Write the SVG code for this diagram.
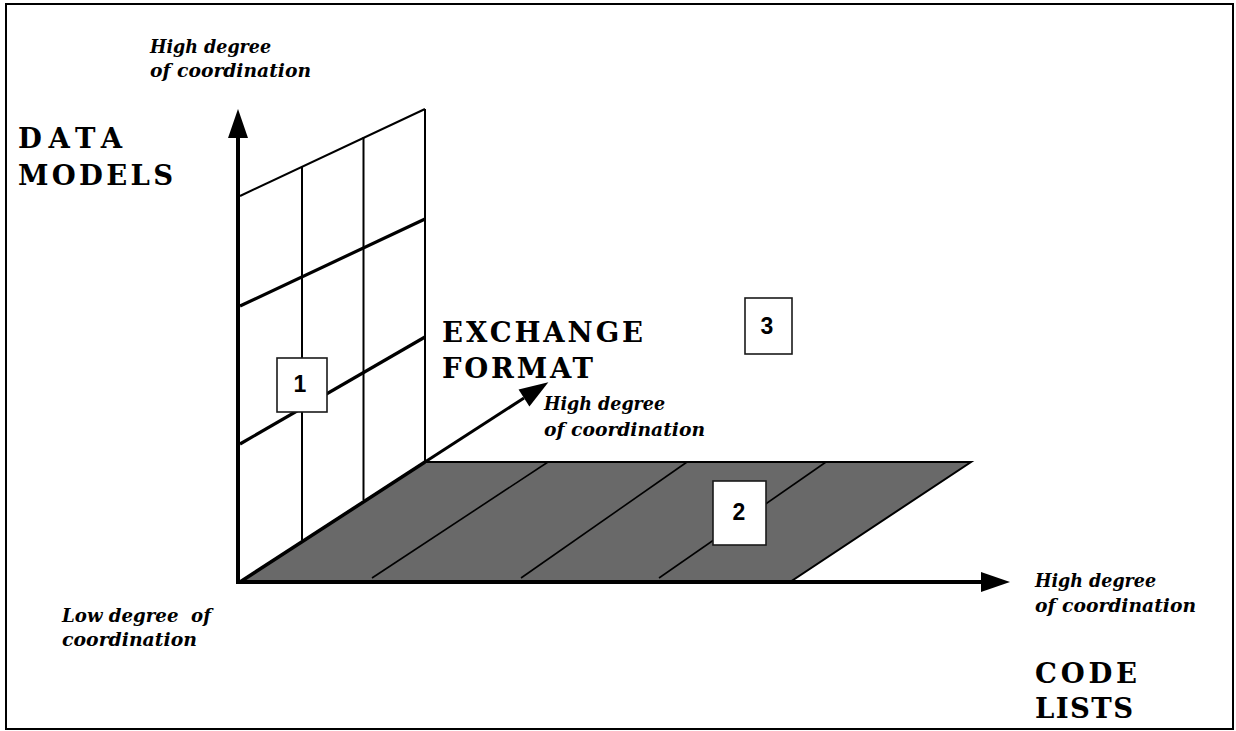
<svg xmlns="http://www.w3.org/2000/svg" width="1236" height="731" viewBox="0 0 1236 731">
  <style>
    .frame { fill: #ffffff; stroke: #000000; stroke-width: 2; }
    .axis { stroke: #000000; stroke-width: 4; fill: none; }
    .grid { stroke: #000000; stroke-width: 2; fill: none; }
    .grid-bold { stroke: #000000; stroke-width: 3.2; fill: none; }
    .stripe { stroke: #000000; stroke-width: 1.6; fill: none; }
    .floor { fill: #696969; stroke: #000000; stroke-width: 2; }
    .box { fill: #ffffff; stroke: #1a1a1a; stroke-width: 1.6; }
    .num { font-family: "Liberation Sans", Arial, sans-serif; font-weight: bold; font-size: 23px; fill: #000000; text-anchor: middle; }
    .title { font-family: "DejaVu Serif", "Liberation Serif", serif; font-weight: bold; font-size: 27.5px; fill: #000000; }
    .note { font-family: "DejaVu Serif", serif; font-weight: bold; font-style: italic; font-size: 18.5px; fill: #000000; }
  </style>
  <defs>
    <marker id="head" markerUnits="userSpaceOnUse" markerWidth="30" markerHeight="20" refX="0" refY="10" orient="auto" overflow="visible">
      <path d="M0,0 L29,10 L0,20 z" fill="#000000"/>
    </marker>
  </defs>

  <rect class="frame" x="6" y="4" width="1227" height="725"/>

  <!-- floor plane (code lists x exchange format) -->
  <g id="floor">
    <polygon class="floor" points="240,582 425,462 971,462 790,582"/>
    <line class="stripe" x1="372" y1="578" x2="548" y2="462"/>
    <line class="stripe" x1="521" y1="578" x2="687" y2="462"/>
    <line class="stripe" x1="659" y1="578" x2="826" y2="462"/>
    <line x1="240" y1="582" x2="425" y2="462" stroke="#000" stroke-width="3.5"/>
  </g>

  <!-- wall plane (data models x exchange format) -->
  <g id="wall">
    <line class="grid" x1="240" y1="196" x2="425" y2="109"/>
    <line class="grid" x1="302" y1="166" x2="302" y2="540"/>
    <line class="grid" x1="363.5" y1="137" x2="363.5" y2="500"/>
    <line class="grid" x1="425" y1="109" x2="425" y2="463"/>
    <line class="grid-bold" x1="240" y1="306" x2="425" y2="219"/>
    <line class="grid-bold" x1="240" y1="444" x2="425" y2="337"/>
  </g>

  <!-- axes -->
  <g id="connectors">
    <line class="axis" x1="238" y1="584" x2="238" y2="138" marker-end="url(#head)"/>
    <line class="axis" x1="236" y1="582" x2="981" y2="582" marker-end="url(#head)"/>
    <line x1="425" y1="462" x2="524" y2="398" stroke="#000" stroke-width="3" marker-end="url(#head)"/>
  </g>

  <g id="box1">
    <rect class="box" x="277" y="358" width="50" height="54"/>
    <text class="num" x="300" y="392">1</text>
  </g>
  <g id="box2">
    <rect class="box" x="713" y="481" width="53" height="64"/>
    <text class="num" x="739" y="520">2</text>
  </g>
  <g id="box3">
    <rect class="box" x="745" y="298" width="47" height="56"/>
    <text class="num" x="767" y="334">3</text>
  </g>

  <g id="label-data-models">
    <text class="title" x="18" y="148" textLength="104" lengthAdjust="spacing">DATA</text>
    <text class="title" x="18" y="185" textLength="155" lengthAdjust="spacing">MODELS</text>
    <text class="note" x="150" y="53" textLength="121" lengthAdjust="spacingAndGlyphs">High degree</text>
    <text class="note" x="150" y="77" textLength="161" lengthAdjust="spacingAndGlyphs">of coordination</text>
  </g>

  <g id="label-exchange-format">
    <text class="title" x="442" y="342" textLength="201" lengthAdjust="spacing">EXCHANGE</text>
    <text class="title" x="442" y="378" textLength="151" lengthAdjust="spacing">FORMAT</text>
    <text class="note" x="544" y="410" textLength="121" lengthAdjust="spacingAndGlyphs">High degree</text>
    <text class="note" x="544" y="436" textLength="161" lengthAdjust="spacingAndGlyphs">of coordination</text>
  </g>

  <g id="label-code-lists">
    <text class="note" x="1035" y="587" textLength="121" lengthAdjust="spacingAndGlyphs">High degree</text>
    <text class="note" x="1035" y="612" textLength="161" lengthAdjust="spacingAndGlyphs">of coordination</text>
    <text class="title" x="1035" y="683" textLength="102" lengthAdjust="spacing">CODE</text>
    <text class="title" x="1035" y="718" textLength="98" lengthAdjust="spacing">LISTS</text>
  </g>

  <g id="label-origin">
    <text class="note" x="62" y="622" xml:space="preserve" textLength="149" lengthAdjust="spacingAndGlyphs">Low degree  of</text>
    <text class="note" x="62" y="646" textLength="135" lengthAdjust="spacingAndGlyphs">coordination</text>
  </g>
</svg>
